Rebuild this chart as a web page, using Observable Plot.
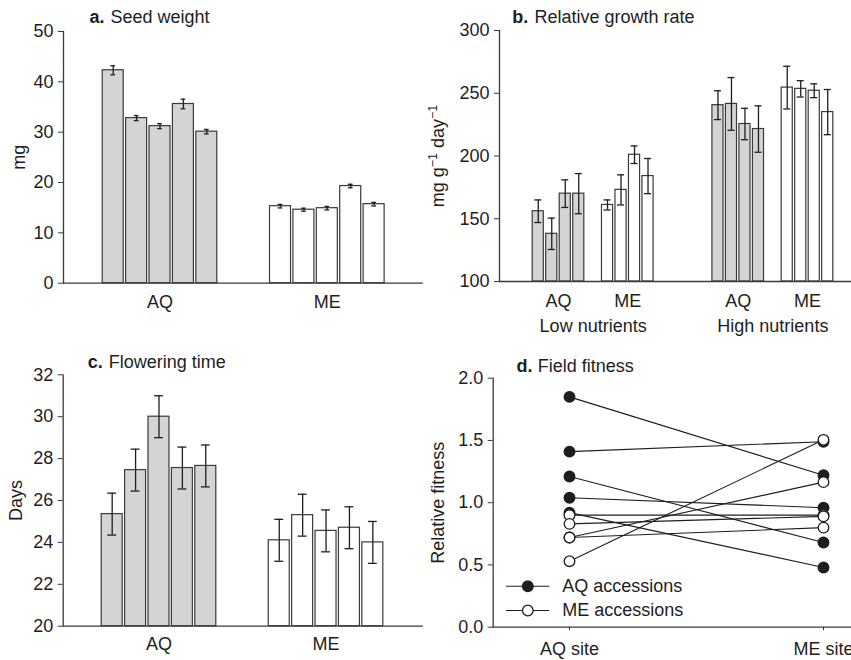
<!DOCTYPE html>
<html>
<head>
<meta charset="utf-8">
<script src="https://cdn.jsdelivr.net/npm/d3@7"></script>
<script src="https://cdn.jsdelivr.net/npm/@observablehq/plot@0.6"></script>
<style>
html, body { margin: 0; padding: 0; background: #fff; overflow: hidden; }
#fig { position: relative; width: 851px; height: 660px; overflow: hidden; }
#fig svg { position: absolute; overflow: visible; }
</style>
</head>
<body>
<div id="fig"></div>
<script>
// ---------------- DATA ----------------
// a. Seed weight (mg)
const seedAQ = [42.3, 32.8, 31.2, 35.6, 30.1];
const seedAQErr = [0.9, 0.5, 0.5, 0.95, 0.45];
const seedME = [15.3, 14.6, 14.9, 19.3, 15.7];
const seedMEErr = [0.35, 0.3, 0.35, 0.35, 0.35];
const seedTicks = [0, 10, 20, 30, 40, 50];

// b. Relative growth rate (mg g-1 day-1)
const nutrientLevels = ["Low nutrients", "High nutrients"];
const rgrLowAQ = [156, 138, 170, 170];
const rgrLowAQErr = [9, 12.5, 11, 16];
const rgrLowME = [161, 173, 201, 184];
const rgrLowMEErr = [4, 12, 7, 14];
const rgrHighAQ = [240.5, 241.5, 225.5, 221.5];
const rgrHighAQErr = [11.5, 21, 12.5, 18.5];
const rgrHighME = [254.5, 253.5, 252, 235];
const rgrHighMEErr = [17, 6.5, 5.5, 18];
const rgrTicks = [100, 150, 200, 250, 300];

// c. Flowering time (days)
const flowerAQ = [25.35, 27.45, 30.0, 27.55, 27.65];
const flowerAQErr = [1.0, 1.0, 1.0, 1.0, 1.0];
const flowerME = [24.1, 25.3, 24.55, 24.7, 24.0];
const flowerMEErr = [1.0, 1.0, 1.0, 1.0, 1.0];
const flowerTicks = [20, 22, 24, 26, 28, 30, 32];

// d. Field fitness (relative fitness)
const sites = ["AQ site", "ME site"];
const fitAQatAQ = [1.85, 1.41, 1.21, 1.04, 0.92];
const fitAQatME = [1.22, 1.49, 0.68, 0.96, 0.48];
const fitMEatAQ = [0.90, 0.83, 0.72, 0.72, 0.53];
const fitMEatME = [0.90, 0.89, 1.165, 0.80, 1.505];
const fitTicks = [0, 0.5, 1.0, 1.5, 2.0];
const legendLabels = ["AQ accessions", "ME accessions"];

// ---------------- STYLE ----------------
const GREY = "#d3d4d6";
const INK = "#1e1e1e";
const AXIS = "#3a3a3a";
const FONT = "'Liberation Sans', Arial, Helvetica, sans-serif";
const FS = 18;
const fig = document.getElementById("fig");

function rowsOf(origin, values, errs, offset) {
  return values.map((v, i) => ({origin, value: v, err: errs[i], x0: offset + i}));
}

function place(svg, left, top) {
  svg.style.left = left + "px";
  svg.style.top = top + "px";
  fig.appendChild(svg);
  return svg;
}

function titleMarks(letter, text, dx1, dx2, dy) {
  return [
    Plot.text([letter], {frameAnchor: "top-left", text: d => d, dx: dx1, dy, textAnchor: "start", lineAnchor: "middle", fontWeight: "bold", fill: INK}),
    Plot.text([text], {frameAnchor: "top-left", text: d => d, dx: dx2, dy, textAnchor: "start", lineAnchor: "middle", fill: INK})
  ];
}

function yLabelMark(label, dx) {
  return Plot.text([label], {frameAnchor: "left", text: d => d, rotate: -90, dx, textAnchor: "middle", lineAnchor: "middle", fill: INK});
}

function barPanel(cfg) {
  const {rows, left, top, width, height, margins, xDomain, yDomain, yTicks, yFormat,
         groupTicks, groupPad, extraTicks, extraPad, capHalf, yLabel, yLabelDx, title} = cfg;
  const gMap = new Map(groupTicks.map(g => [g.x, g.label]));
  const marks = [
    Plot.rect(rows, {
      x1: "x0", x2: d => d.x0 + 1, y1: () => yDomain[0], y2: "value",
      fill: "origin", stroke: AXIS, strokeWidth: 1.2, insetLeft: 1.2, insetRight: 1.2
    }),
    Plot.ruleX(rows, {x: d => d.x0 + 0.5, y1: d => d.value - d.err, y2: d => d.value + d.err, stroke: INK, strokeWidth: 1.3}),
    Plot.ruleY(rows, {y: d => d.value + d.err, x1: d => d.x0 + 0.5 - capHalf, x2: d => d.x0 + 0.5 + capHalf, stroke: INK, strokeWidth: 1.3}),
    Plot.ruleY(rows, {y: d => d.value - d.err, x1: d => d.x0 + 0.5 - capHalf, x2: d => d.x0 + 0.5 + capHalf, stroke: INK, strokeWidth: 1.3}),
    Plot.frame({anchor: "left", stroke: AXIS, strokeWidth: 1.3}),
    Plot.frame({anchor: "bottom", stroke: AXIS, strokeWidth: 1.3}),
    Plot.axisY({ticks: yTicks, tickFormat: yFormat, tickSize: 5, tickPadding: 5, label: null, stroke: AXIS, fill: INK}),
    Plot.axisX({ticks: groupTicks.map(g => g.x), tickFormat: d => gMap.get(d), tickSize: 0, tickPadding: groupPad, label: null, fill: INK}),
    yLabelMark(yLabel, yLabelDx),
    ...titleMarks(title[0], title[1], title[2], title[3], title[4])
  ];
  if (extraTicks) {
    const eMap = new Map(extraTicks.map(g => [g.x, g.label]));
    marks.push(Plot.axisX({ticks: extraTicks.map(g => g.x), tickFormat: d => eMap.get(d), tickSize: 0, tickPadding: extraPad, label: null, fill: INK}));
  }
  const svg = Plot.plot({
    width, height,
    marginTop: margins[0], marginRight: margins[1], marginBottom: margins[2], marginLeft: margins[3],
    style: {fontFamily: FONT, fontSize: FS + "px", color: INK, background: "transparent"},
    x: {domain: xDomain},
    y: {domain: yDomain},
    color: {domain: ["AQ", "ME"], range: [GREY, "#ffffff"]},
    marks
  });
  return place(svg, left, top);
}

// ---------- Panel a ----------
const offA = [0, 7.15];
const rowsA = [...rowsOf("AQ", seedAQ, seedAQErr, offA[0]), ...rowsOf("ME", seedME, seedMEErr, offA[1])];
barPanel({
  rows: rowsA, left: 0, top: 0, width: 425, height: 330, margins: [31, 3.3, 47.3, 63],
  xDomain: [-1.624, 13.705], yDomain: [0, 50], yTicks: seedTicks, yFormat: d3.format("d"),
  groupTicks: [{x: offA[0] + 2.5, label: "AQ"}, {x: offA[1] + 2.5, label: "ME"}], groupPad: 12.5,
  capHalf: 0.1, yLabel: "mg", yLabelDx: -44.7,
  title: ["a.", "Seed weight", 26, 47, -14]
});

// ---------- Panel b ----------
const offB = [0, 5.13, 13.31, 18.44];
const rowsB = [
  ...rowsOf("AQ", rgrLowAQ, rgrLowAQErr, offB[0]),
  ...rowsOf("ME", rgrLowME, rgrLowMEErr, offB[1]),
  ...rowsOf("AQ", rgrHighAQ, rgrHighAQErr, offB[2]),
  ...rowsOf("ME", rgrHighME, rgrHighMEErr, offB[3])
];
const svgB = barPanel({
  rows: rowsB, left: 425, top: 0, width: 426, height: 330, margins: [30, 0, 49, 74],
  xDomain: [-2.37, 23.70], yDomain: [100, 300], yTicks: rgrTicks, yFormat: d3.format("d"),
  groupTicks: [
    {x: offB[0] + 2, label: "AQ"}, {x: offB[1] + 2, label: "ME"},
    {x: offB[2] + 2, label: "AQ"}, {x: offB[3] + 2, label: "ME"}
  ], groupPad: 12.5,
  extraTicks: [
    {x: (offB[0] + offB[1] + 4) / 2, label: nutrientLevels[0]},
    {x: (offB[2] + offB[3] + 4) / 2, label: nutrientLevels[1]}
  ], extraPad: 37.5,
  capHalf: 0.26, yLabel: "mg g-1 day-1", yLabelDx: -61.7,
  title: ["b.", "Relative growth rate", 12.7, 35, -13.3]
});
// superscripts in the unit label
svgB.querySelectorAll("text").forEach(t => {
  if (t.textContent === "mg g-1 day-1") {
    while (t.firstChild) t.removeChild(t.firstChild);
    const parts = [["mg g", 0, null], ["\u22121", -6.5, 12.5], [" day", 6.5, null], ["\u22121", -6.5, 12.5]];
    for (const [s, dy, fs] of parts) {
      const ts = document.createElementNS("http://www.w3.org/2000/svg", "tspan");
      ts.textContent = s;
      if (dy) ts.setAttribute("dy", dy);
      if (fs) ts.setAttribute("font-size", fs);
      t.appendChild(ts);
    }
  }
});

// ---------- Panel c ----------
const offC = [0, 7.14];
const rowsC = [...rowsOf("AQ", flowerAQ, flowerAQErr, offC[0]), ...rowsOf("ME", flowerME, flowerMEErr, offC[1])];
barPanel({
  rows: rowsC, left: 0, top: 330, width: 425, height: 330, margins: [44.3, 3.3, 34.3, 62.7],
  xDomain: [-1.594, 13.75], yDomain: [20, 32], yTicks: flowerTicks, yFormat: d3.format("d"),
  groupTicks: [{x: offC[0] + 2.5, label: "AQ"}, {x: offC[1] + 2.5, label: "ME"}], groupPad: 11,
  capHalf: 0.19, yLabel: "Days", yLabelDx: -47,
  title: ["c.", "Flowering time", 24.6, 45.6, -12.6]
});

// ---------- Panel d ----------
const fitRows = [];
fitAQatAQ.forEach((v, i) => {
  fitRows.push({id: "AQ" + i, origin: "AQ", site: sites[0], value: v});
  fitRows.push({id: "AQ" + i, origin: "AQ", site: sites[1], value: fitAQatME[i]});
});
fitMEatAQ.forEach((v, i) => {
  fitRows.push({id: "ME" + i, origin: "ME", site: sites[0], value: v});
  fitRows.push({id: "ME" + i, origin: "ME", site: sites[1], value: fitMEatME[i]});
});
const legendItems = [
  {label: legendLabels[0], fill: INK, dy: -41},
  {label: legendLabels[1], fill: "#ffffff", dy: -16.7}
];
const legendMarks = legendItems.flatMap(it => [
  Plot.ruleY([0], {dy: it.dy, insetLeft: 13.3, insetRight: 301.7, stroke: INK, strokeWidth: 1.1}),
  Plot.dot([it], {frameAnchor: "bottom-left", dx: 34.6, dy: it.dy, r: 5.3, fill: it.fill, stroke: INK, strokeWidth: 1.3}),
  Plot.text([it], {frameAnchor: "bottom-left", dx: 69, dy: it.dy, text: "label", textAnchor: "start", lineAnchor: "middle", fill: INK})
]);
const svgD = Plot.plot({
  width: 426, height: 330, marginTop: 47.7, marginRight: 0, marginBottom: 33.3, marginLeft: 67.7,
  style: {fontFamily: FONT, fontSize: FS + "px", color: INK, background: "transparent"},
  x: {type: "point", domain: sites, padding: 0.2053, align: 0.7315},
  y: {domain: [0, 2]},
  marks: [
    Plot.frame({anchor: "left", stroke: AXIS, strokeWidth: 1.3}),
    Plot.frame({anchor: "bottom", stroke: AXIS, strokeWidth: 1.3}),
    Plot.axisY({ticks: fitTicks, tickFormat: d3.format(".1f"), tickSize: 5, tickPadding: 5, label: null, stroke: AXIS, fill: INK}),
    Plot.axisX({tickSize: 3.5, tickPadding: 11.5, label: null, stroke: AXIS, fill: INK}),
    Plot.line(fitRows, {x: "site", y: "value", z: "id", stroke: INK, strokeWidth: 1.1}),
    Plot.dot(fitRows.filter(d => d.origin === "AQ"), {x: "site", y: "value", r: 5.3, fill: INK, stroke: INK, strokeWidth: 1.3}),
    Plot.dot(fitRows.filter(d => d.origin === "ME"), {x: "site", y: "value", r: 5.3, fill: "#ffffff", stroke: INK, strokeWidth: 1.3}),
    ...legendMarks,
    yLabelMark("Relative fitness", -55.4),
    ...titleMarks("d.", "Field fitness", 23.3, 44.6, -11.7)
  ]
});
place(svgD, 425, 330);
</script>
</body>
</html>
